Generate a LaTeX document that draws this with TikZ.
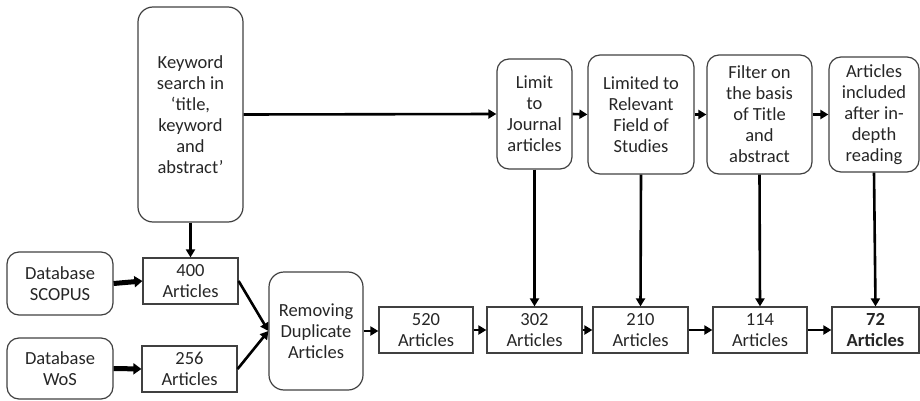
\documentclass[tikz,border=0pt]{standalone}
\usepackage{fontspec}
\setmainfont{Carlito}
\usetikzlibrary{arrows.meta}
\begin{document}
\begin{tikzpicture}[x=1pt,y=-1pt,
  txt/.style={font=\fontsize{18.5}{21}\selectfont, text=black!85, align=center, inner sep=0pt},
  rbox/.style={txt, draw=black!75, line width=1.2pt, rounded corners=12pt},
  sbox/.style={txt, draw=black!75, line width=1.2pt},
  arr/.style={line width=2.6pt, -{Triangle[length=8pt,width=9pt]}},
  thk/.style={line width=5pt, -{Triangle[length=8pt,width=11pt]}}]
\useasboundingbox (0,0) rectangle (920,401);
\node[rbox, rounded corners=15pt, minimum width=105pt, minimum height=215pt] (kw) at (190.5,114.5) {Keyword\\search in\\‘title,\\keyword\\and\\abstract’};
\node[rbox, minimum width=106pt, minimum height=63pt] (sc) at (60,283.5) {Database\\SCOPUS};
\node[rbox, minimum width=106pt, minimum height=61pt] (wos) at (60,368.5) {Database\\WoS};
\node[sbox, minimum width=95pt, minimum height=46pt] (a400) at (190.5,281) {400\\Articles};
\node[sbox, minimum width=95pt, minimum height=46pt] (a256) at (189.5,369) {256\\Articles};
\node[rbox, rounded corners=15pt, minimum width=94pt, minimum height=118pt] (rem) at (316,331) {Removing\\Duplicate\\Articles};
\node[sbox, minimum width=94pt, minimum height=46pt] (a520) at (426,330) {520\\Articles};
\node[rbox, minimum width=75pt, minimum height=110pt] (lim) at (534.5,114) {Limit\\to\\Journal\\articles};
\node[rbox, minimum width=106pt, minimum height=119pt] (rel) at (641,114.5) {Limited to\\Relevant\\Field of\\Studies};
\node[rbox, minimum width=105pt, minimum height=119pt] (fil) at (759.5,114.5) {Filter on\\the basis\\of Title\\and\\abstract};
\node[rbox, minimum width=90pt, minimum height=115pt] (inc) at (874,114.5) {Articles\\included\\after in-\\depth\\reading};
\node[sbox, minimum width=95pt, minimum height=46pt] (a302) at (534.5,330) {302\\Articles};
\node[sbox, minimum width=95pt, minimum height=46pt] (a210) at (640.5,330) {210\\Articles};
\node[sbox, minimum width=94pt, minimum height=46pt] (a114) at (760,330) {114\\Articles};
\node[sbox, minimum width=87pt, minimum height=46pt, font=\fontsize{18.5}{21}\selectfont\bfseries] (a72) at (875.5,330) {72\\Articles};
% connectors
\draw[arr] (kw.south) -- (a400.north);
\draw[thk] (sc.east) -- (a400.west);
\draw[thk] (wos.east) -- (a256.west);
\draw[arr] (a400.east) -- (rem.west);
\draw[arr] (a256.east) -- (rem.west);
\draw[arr] (rem.east) -- (rem.east -| a520.west);
\draw[arr] (kw.east) -- (lim.west);
\draw[arr] (lim.east) -- (rel.west);
\draw[arr] (rel.east) -- (fil.west);
\draw[arr] (fil.east) -- (inc.west);
\draw[arr] (a520.east) -- (a302.west);
\draw[arr] (a302.east) -- (a210.west);
\draw[arr] (a210.east) -- (a114.west);
\draw[arr] (a114.east) -- (a72.west);
\draw[arr] (lim.south) -- (a302.north);
\draw[arr] (rel.south) -- (a210.north);
\draw[arr] (fil.south) -- (a114.north);
\draw[arr] (inc.south) -- (a72.north);
\end{tikzpicture}
\end{document}
